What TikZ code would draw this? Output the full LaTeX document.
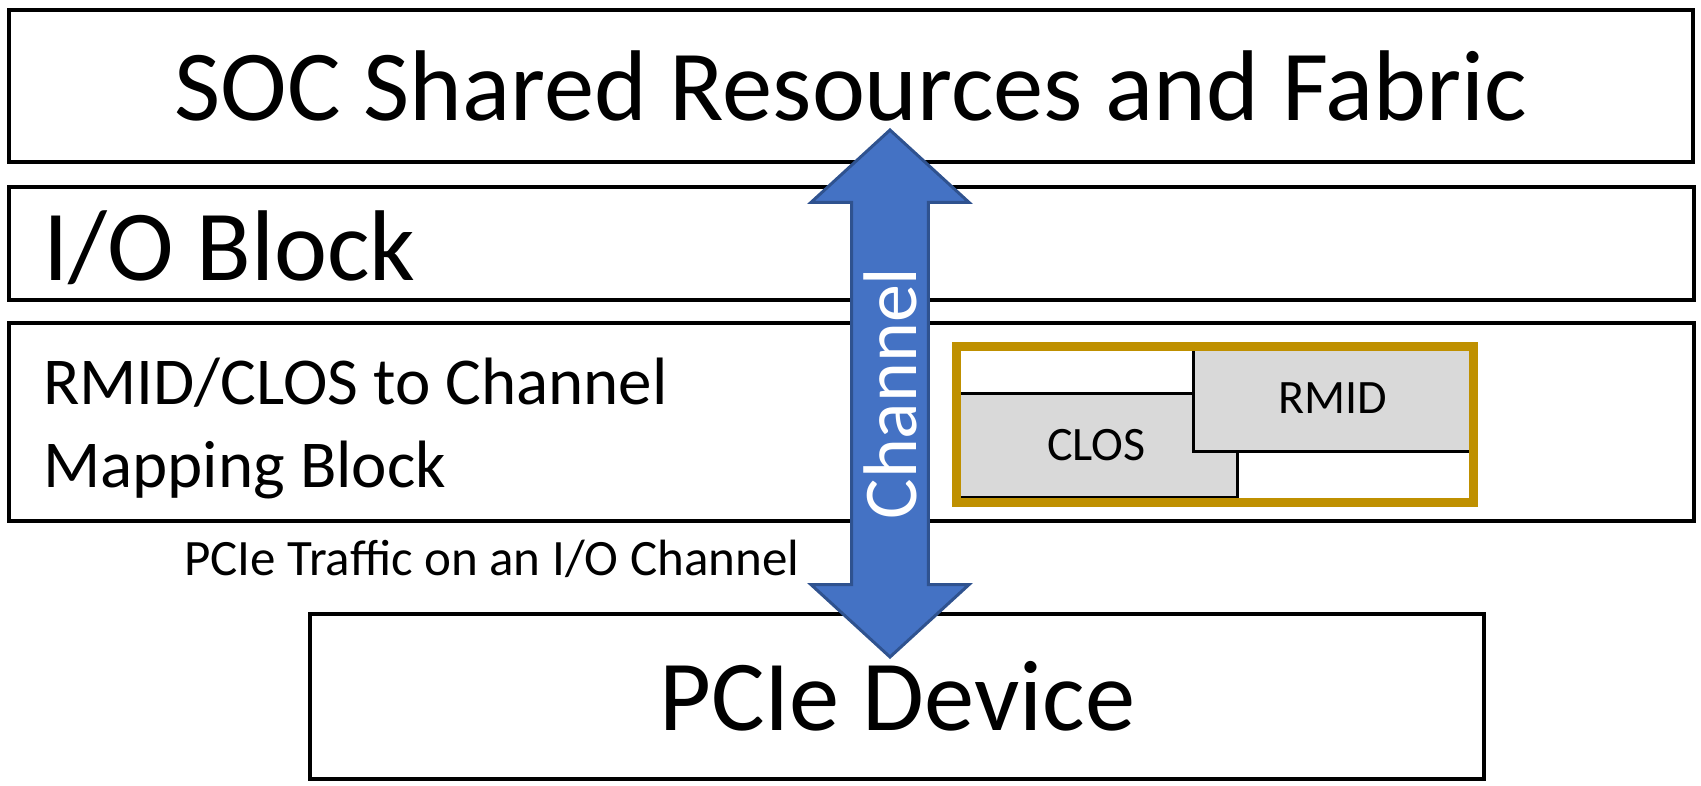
\documentclass[tikz,border=0pt]{standalone}
\usepackage{fontspec}
\setmainfont{Carlito}
\usetikzlibrary{shapes.arrows}
\definecolor{chanblue}{RGB}{68,114,196}
\definecolor{chanedge}{RGB}{47,82,143}
\definecolor{mapgold}{RGB}{191,144,0}
\definecolor{mapgray}{RGB}{217,217,217}
\tikzset{layer/.style={draw=black,line width=4pt,fill=white,inner sep=0pt},
  field/.style={draw=black,line width=3pt,fill=mapgray,inner sep=0pt,font=\fontsize{48}{58}\selectfont},
  big/.style={font=\fontsize{100.5}{120}\selectfont},
  mid/.style={font=\fontsize{67}{80}\selectfont},
  lbl/.style={inner sep=0pt,anchor=base west}}

\begin{document}
\begin{tikzpicture}[x=1pt,y=-1pt]
  \useasboundingbox (0,0) rectangle (1701,785);
  % layers of the SOC
  \node[layer,big,minimum width=1684pt,minimum height=152pt] (soc) at (851,86) {SOC Shared Resources and Fabric};
  \node[layer,minimum width=1685pt,minimum height=113pt] (io) at (851.5,243.5) {};
  \node[layer,minimum width=1685pt,minimum height=198pt] (map) at (851.5,422) {};
  \node[layer,big,minimum width=1174pt,minimum height=165pt] (pcie) at (897,696.5) {PCIe Device};
  \node[lbl,big] (iotext) at (43,280) {I/O Block};
  \node[lbl,mid] (mapa) at (43,404) {RMID/CLOS to Channel};
  \node[lbl,mid] (mapb) at (43,487) {Mapping Block};
  \node[lbl,font=\fontsize{51}{61}\selectfont] (traffic) at (184,575) {PCIe Traffic on an I/O Channel};
  % mapping table
  \node[field,minimum width=281pt,minimum height=104pt] (clos) at (1096.5,445) {CLOS};
  \node[field,minimum width=280pt,minimum height=105pt] (rmid) at (1333,398.5) {RMID};
  \node[draw=mapgold,line width=9pt,minimum width=517pt,minimum height=156pt,inner sep=0pt] (table) at (1214.5,424) {};
  % the channel
  \node[double arrow,rotate=90,fill=chanblue,draw=chanedge,line width=3pt,text=white,
        font=\fontsize{76}{90}\selectfont,inner xsep=0pt,inner ysep=10pt,minimum height=527pt,minimum width=158pt,
        double arrow head extend=40.5pt,double arrow tip angle=95] (chan) at (890,393.5) {Channel};
\end{tikzpicture}
\end{document}
